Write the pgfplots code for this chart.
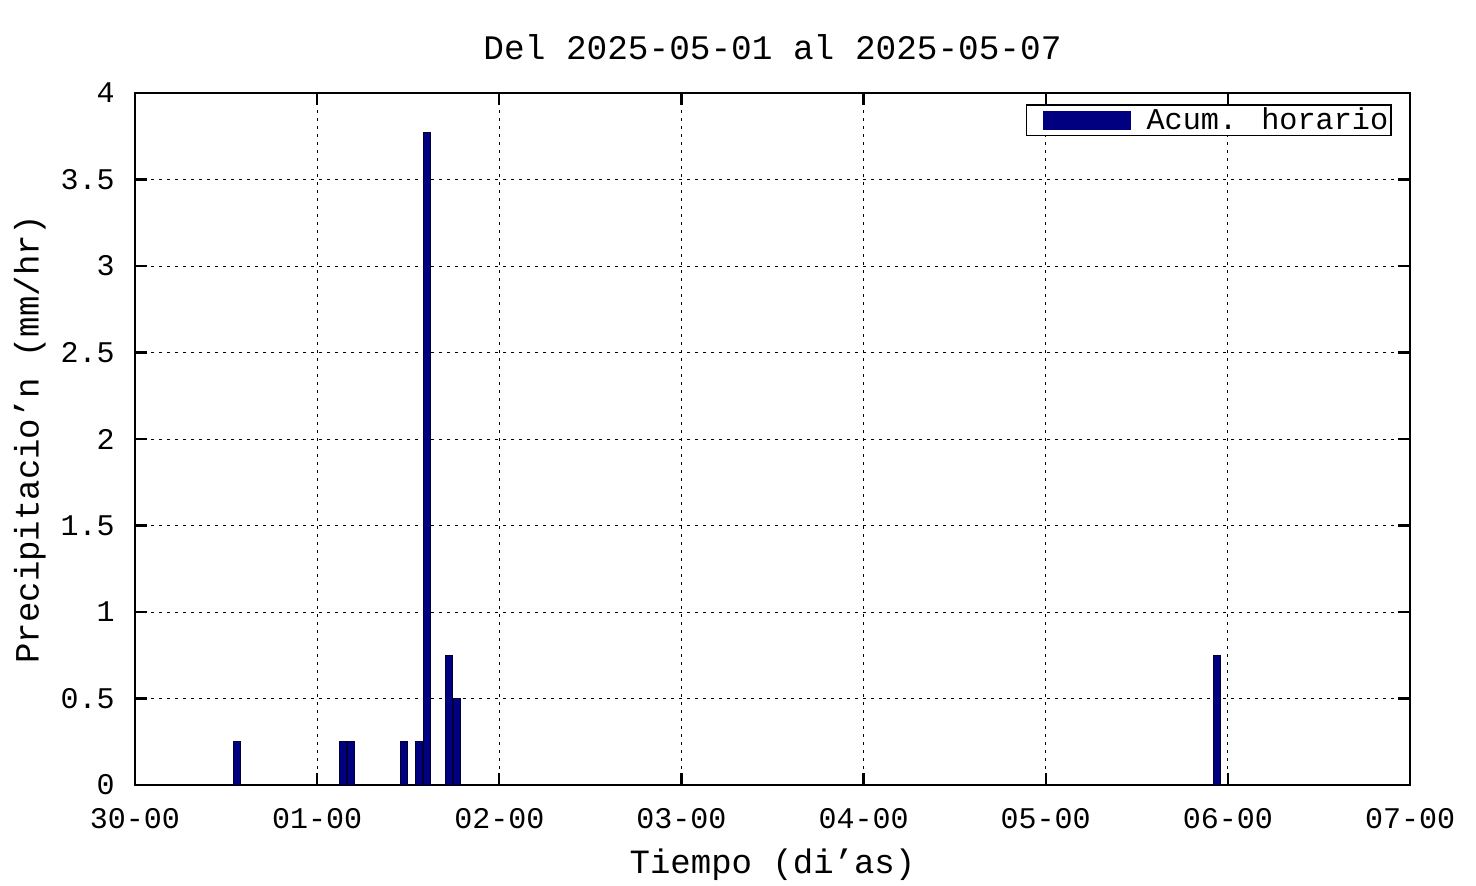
\documentclass[border=0pt]{standalone}
\usepackage{pgfplots}
\pgfplotsset{compat=1.18}
\usepackage{fontspec}
\setmainfont{Liberation Mono}
\definecolor{barnavy}{RGB}{0,0,128}
\begin{document}
\begin{tikzpicture}
\useasboundingbox (-67.5pt,-50pt) rectangle (670.5pt,392.5pt);
\begin{axis}[
  at={(0,0)}, anchor=south west,
  scale only axis, width=637.5pt, height=346pt,
  xmin=0, xmax=7, ymin=0, ymax=4,
  xtick={0,1,2,3,4,5,6,7},
  xticklabels={30-00,01-00,02-00,03-00,04-00,05-00,06-00,07-00},
  ytick={0,0.5,1,1.5,2,2.5,3,3.5,4},
  yticklabels={0,0.5,1,1.5,2,2.5,3,3.5,4},
  /pgf/number format/assume math mode=true,
  tick label style={font=\fontsize{15}{18}\selectfont, inner sep=0pt},
  xticklabel style={anchor=base, yshift=-21.5pt},
  yticklabel style={anchor=east, xshift=-10pt},
  major tick length=6pt,
  tick style={black, line width=1.2pt},
  axis line style={black, line width=1.4pt},
  grid=major,
  major grid style={black, line width=0.5pt, dash pattern=on 1.5pt off 2.5pt},
  title={Del 2025-05-01 al 2025-05-07},
  title style={font=\fontsize{17.2}{20}\selectfont, at={(axis description cs:0.5,1.049)}, anchor=center},
  xlabel={Tiempo (di'as)},
  xlabel style={font=\fontsize{17}{20}\selectfont, at={(axis description cs:0.5,-0.1156)}, anchor=center},
  ylabel={Precipitacio'n (mm/hr)},
  ylabel style={font=\fontsize{17}{20}\selectfont, at={(axis description cs:-0.0824,0.5)}, anchor=center, rotate=0},
  legend style={at={(axis description cs:1,1)}, anchor=north east, xshift=-9pt, yshift=-5.5pt,
    draw=black, line width=0.8pt, font=\fontsize{15.1}{18}\selectfont, inner sep=0.5pt,
    nodes={inner sep=1pt},
    /tikz/every even column/.append style={column sep=0pt}},
  legend cell align=left,
]
\addlegendimage{legend image code/.code={\path[draw=none,fill=none] (0pt,-4pt) rectangle (58.5pt,4pt);\fill[barnavy] (8pt,-4.25pt) rectangle (51.5pt,4.25pt);}}
\addlegendentry{Acum. horario}
\addplot[ybar, forget plot, bar width=3.5pt, bar shift=0pt, fill=barnavy, draw=black!60!barnavy, line width=0.6pt]
coordinates {
(0.558,0.25)
(1.1437,0.25)
(1.184,0.25)
(1.477,0.25)
(1.559,0.25)
(1.6015,3.77)
(1.7256,0.75)
(1.7695,0.5)
(5.939,0.75)
};
\end{axis}
\end{tikzpicture}
\end{document}
